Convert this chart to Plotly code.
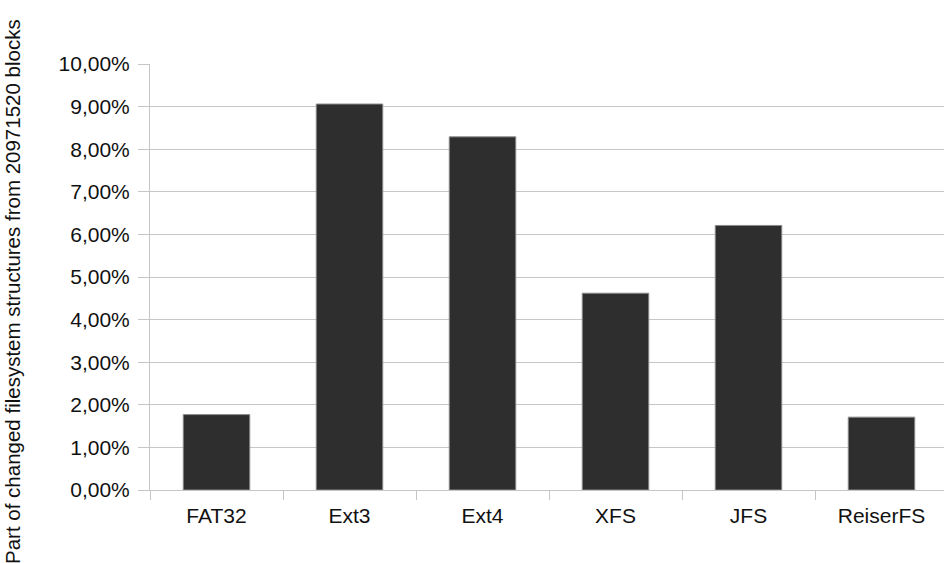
import plotly.graph_objects as go

# Share of changed filesystem structures per filesystem (percent)
filesystems = ["FAT32", "Ext3", "Ext4", "XFS", "JFS", "ReiserFS"]
changed_pct = [1.77, 9.06, 8.29, 4.62, 6.21, 1.71]

y_tick_vals = list(range(0, 11))
y_tick_text = [f"{v},00%" for v in y_tick_vals]

W, H = 944, 563
L, T, B = 150, 64, 73
plot_w = W - L
cat_px = 133.0

grid = "#c6c6c6"
font = "Liberation Sans, Arial, sans-serif"

fig = go.Figure(
    go.Bar(
        x=filesystems,
        y=changed_pct,
        width=0.5,
        marker=dict(color="#2e2e2e", line=dict(color="#8a8a8a", width=1)),
        hoverinfo="x+y",
    )
)

fig.update_layout(
    width=W,
    height=H,
    margin=dict(l=L, r=0, t=T, b=B, pad=0),
    paper_bgcolor="white",
    plot_bgcolor="white",
    showlegend=False,
    font=dict(family=font, size=21, color="#111111"),
)

fig.update_xaxes(
    type="category",
    range=[-0.5, -0.5 + plot_w / cat_px],
    showgrid=False,
    showline=True,
    linecolor=grid,
    linewidth=1,
    ticks="outside",
    tickson="boundaries",
    ticklen=9,
    tickcolor=grid,
    tickwidth=1,
    tickfont=dict(family=font, size=21, color="#111111"),
    ticklabelstandoff=7,
)

fig.update_yaxes(
    range=[0, 10],
    tickmode="array",
    tickvals=y_tick_vals,
    ticktext=y_tick_text,
    showgrid=True,
    gridcolor=grid,
    gridwidth=1,
    zeroline=False,
    showline=True,
    linecolor=grid,
    linewidth=1,
    ticks="outside",
    ticklen=11,
    tickcolor=grid,
    tickwidth=1,
    tickfont=dict(family=font, size=21, color="#111111"),
    ticklabelstandoff=4,
)

# Rotated y-axis title placed at the far left edge
fig.add_annotation(
    text="Part of changed filesystem structures from 20971520 blocks",
    xref="paper",
    yref="paper",
    x=(12 - L) / plot_w,
    y=(490 - 292) / (H - T - B),
    xanchor="center",
    yanchor="middle",
    textangle=-90,
    showarrow=False,
    font=dict(family=font, size=20.5, color="#111111"),
)

fig.write_html("out.html")
